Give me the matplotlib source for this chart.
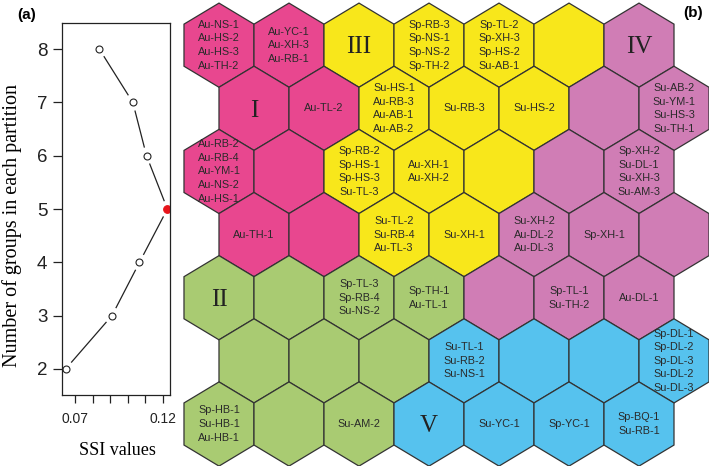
import matplotlib
matplotlib.use("Agg")

import matplotlib.pyplot as plt
from matplotlib.patches import RegularPolygon
import numpy as np

# (a) SSI values for each partition size
n_groups = [2, 3, 4, 5, 6, 7, 8]
ssi = [0.0647, 0.0911, 0.1068, 0.1227, 0.1108, 0.1030, 0.0839]
best_groups = 5

# (b) SOM map, rows listed from top to bottom, 7 units per row
clusters = [
    ["I", "I", "III", "III", "III", "III", "IV"],
    ["I", "I", "III", "III", "III", "IV", "IV"],
    ["I", "I", "III", "III", "III", "IV", "IV"],
    ["I", "I", "III", "III", "IV", "IV", "IV"],
    ["II", "II", "II", "II", "IV", "IV", "IV"],
    ["II", "II", "II", "V", "V", "V", "V"],
    ["II", "II", "II", "V", "V", "V", "V"],
]
cluster_colors = {
    "I": "#E8478F",
    "II": "#A9CB72",
    "III": "#F8E71B",
    "IV": "#D07DB5",
    "V": "#56C2EE",
}
unit_labels = [
    [["Au-NS-1", "Au-HS-2", "Au-HS-3", "Au-TH-2"], ["Au-YC-1", "Au-XH-3", "Au-RB-1"], [],
     ["Sp-RB-3", "Sp-NS-1", "Sp-NS-2", "Sp-TH-2"], ["Sp-TL-2", "Sp-XH-3", "Sp-HS-2", "Su-AB-1"], [], []],
    [[], ["Au-TL-2"], ["Su-HS-1", "Au-RB-3", "Au-AB-1", "Au-AB-2"], ["Su-RB-3"], ["Su-HS-2"], [],
     ["Su-AB-2", "Su-YM-1", "Su-HS-3", "Su-TH-1"]],
    [["Au-RB-2", "Au-RB-4", "Au-YM-1", "Au-NS-2", "Au-HS-1"], [], ["Sp-RB-2", "Sp-HS-1", "Sp-HS-3", "Su-TL-3"],
     ["Au-XH-1", "Au-XH-2"], [], [], ["Sp-XH-2", "Su-DL-1", "Su-XH-3", "Su-AM-3"]],
    [["Au-TH-1"], [], ["Su-TL-2", "Su-RB-4", "Au-TL-3"], ["Su-XH-1"], ["Su-XH-2", "Au-DL-2", "Au-DL-3"],
     ["Sp-XH-1"], []],
    [[], [], ["Sp-TL-3", "Sp-RB-4", "Su-NS-2"], ["Sp-TH-1", "Au-TL-1"], [], ["Sp-TL-1", "Su-TH-2"], ["Au-DL-1"]],
    [[], [], [], ["Su-TL-1", "Su-RB-2", "Su-NS-1"], [], [],
     ["Sp-DL-1", "Sp-DL-2", "Sp-DL-3", "Su-DL-2", "Su-DL-3"]],
    [["Sp-HB-1", "Su-HB-1", "Au-HB-1"], [], ["Su-AM-2"], [], ["Su-YC-1"], ["Sp-YC-1"], ["Sp-BQ-1", "Su-RB-1"]],
]
# cells carrying the cluster name (row, col)
cluster_names = {(0, 2): "III", (0, 6): "IV", (1, 0): "I", (4, 0): "II", (6, 3): "V"}

W, H = 709, 466
fig = plt.figure(figsize=(W / 100, H / 100), dpi=100)

# ---------------- panel (a) ----------------
ax1 = fig.add_axes([62 / W, (H - 395) / H, 108 / W, 372 / H])
ax1.set_xlim(0.0626, 0.1242)
ax1.set_ylim(1.51, 8.49)

pts = ax1.transData.transform(np.column_stack([ssi, n_groups]))
inv = ax1.transData.inverted()
gap = 9
for p, q in zip(pts[:-1], pts[1:]):
    u = (q - p) / np.hypot(*(q - p))
    seg = inv.transform([p + u * gap, q - u * gap])
    ax1.plot(seg[:, 0], seg[:, 1], color="#222222", lw=0.9)

for x, y in zip(ssi, n_groups):
    if y == best_groups:
        ax1.plot(x, y, "o", ms=5.5, mfc="#E8141B", mec="#E8141B", mew=0.8)
    else:
        ax1.plot(x, y, "o", ms=5, mfc="white", mec="#222222", mew=0.8)

ax1.set_yticks(n_groups)
ax1.set_yticklabels([str(v) for v in n_groups], fontsize=13.5, family="Liberation Sans")
xt = [0.07, 0.08, 0.09, 0.10, 0.11, 0.12]
ax1.set_xticks(xt)
ax1.set_xticklabels(["0.07", "", "", "", "", "0.12"], fontsize=10, family="Liberation Sans")
ax1.tick_params(axis="y", length=6.5, width=0.9, pad=4, colors="#222222")
ax1.tick_params(axis="x", length=6, width=0.9, pad=6, colors="#222222")
for s in ax1.spines.values():
    s.set_linewidth(0.9)
    s.set_color("#222222")

ax1.set_ylabel("Number of groups in each partition", fontsize=14.5, family="Liberation Serif")
ax1.yaxis.label.set_va("center")
ax1.yaxis.set_label_coords(-0.46, 0.455)
ax1.set_xlabel("SSI values", fontsize=13, family="Liberation Serif")
ax1.xaxis.label.set_va("center")
ax1.xaxis.set_label_coords(0.51, -0.148)

fig.text(17 / W, 1 - 15 / H, "(a)", fontsize=11, fontweight="bold", va="center", ha="left",
         family="Liberation Sans")
fig.text(683 / W, 1 - 13 / H, "(b)", fontsize=11, fontweight="bold", va="center", ha="left",
         family="Liberation Sans")

# ---------------- panel (b) ----------------
ax2 = fig.add_axes([180 / W, 0, (W - 180) / W, 1])
ax2.set_xlim(-0.557, 7.0)
ax2.set_ylim(-0.576, 5.816)
ax2.axis("off")

r_hex = 1 / np.sqrt(3)
for r in range(7):
    for c in range(7):
        cx = c + 0.5 * (r % 2)
        cy = (6 - r) * np.sqrt(3) / 2
        hexagon = RegularPolygon((cx, cy), numVertices=6, radius=r_hex, orientation=0,
                                 facecolor=cluster_colors[clusters[r][c]],
                                 edgecolor="#333333", lw=0.9)
        ax2.add_patch(hexagon)
        if (r, c) in cluster_names:
            ax2.text(cx, cy - 0.03, cluster_names[(r, c)], fontsize=18, ha="center", va="center",
                     family="Liberation Serif", color="#222222")
        elif unit_labels[r][c]:
            ax2.text(cx, cy, "\n".join(unit_labels[r][c]), fontsize=7.8, ha="center", va="center",
                     family="Liberation Sans", color="#2a2a2a", linespacing=1.45)

fig.savefig("out.png", dpi=100)
